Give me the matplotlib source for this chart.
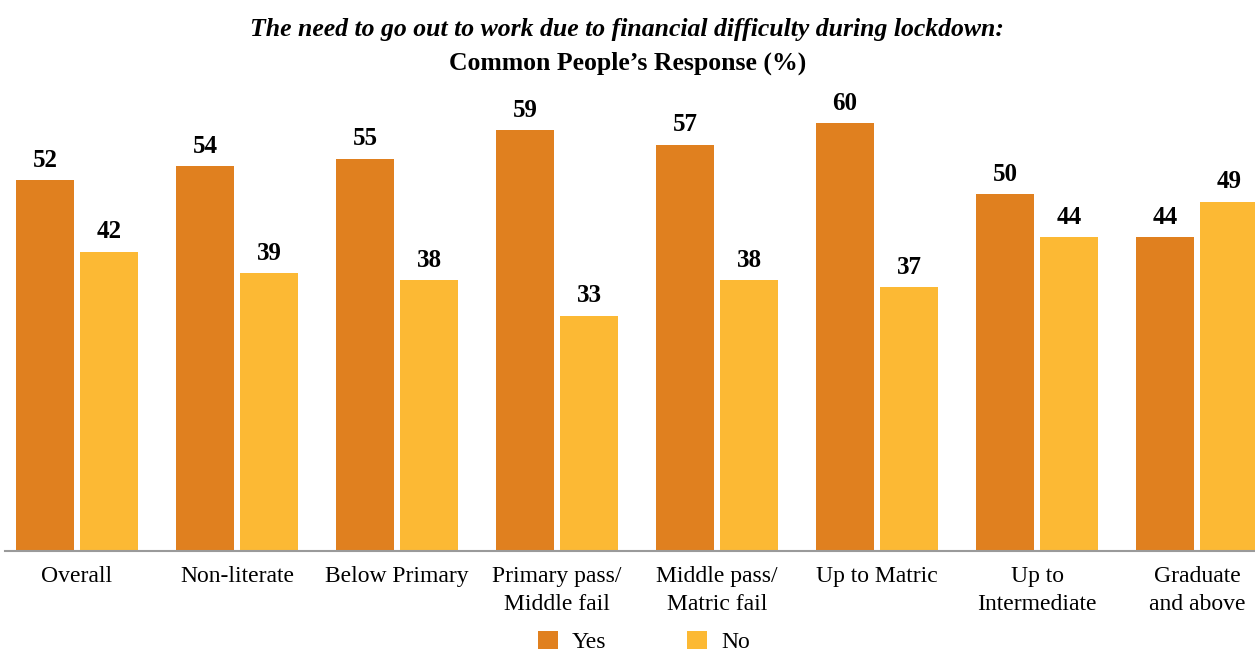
import matplotlib.pyplot as plt
import numpy as np

plt.rcParams["font.family"] = ["Liberation Serif", "DejaVu Serif"]

categories = [
    "Overall", "Non-literate", "Below Primary", "Primary pass/\nMiddle fail",
    "Middle pass/\nMatric fail", "Up to Matric", "Up to\nIntermediate", "Graduate\nand above",
]
yes_vals = [52, 54, 55, 59, 57, 60, 50, 44]
no_vals = [42, 39, 38, 33, 38, 37, 44, 49]

yes_color = "#E0801F"
no_color = "#FCB934"

fig = plt.figure(figsize=(12.55, 6.53), dpi=100)
ax = fig.add_axes([0.004, 0.1562, 0.996, 0.6907])

x = np.arange(len(categories))
width = 0.3625
off = 0.2
b1 = ax.bar(x - off, yes_vals, width, color=yes_color, label="Yes")
b2 = ax.bar(x + off, no_vals, width, color=no_color, label="No")

# value labels above each bar
for bars in (b1, b2):
    for rect in bars:
        h = rect.get_height()
        ax.annotate(f"{h:.0f}", (rect.get_x() + rect.get_width() / 2, h),
                    xytext=(0, 6), textcoords="offset points",
                    ha="center", va="bottom", fontsize=18, fontweight="bold")

ax.set_xlim(-0.45, 7.3625)
ax.set_ylim(0, 63.25)
ax.set_xticks(x)
ax.set_xticklabels(categories, fontsize=17, linespacing=1.45, va="top")
ax.tick_params(axis="x", length=0, pad=11)
ax.set_yticks([])
for s in ("left", "right", "top"):
    ax.spines[s].set_visible(False)
ax.spines["bottom"].set_color("#9a9a9a")
ax.spines["bottom"].set_linewidth(1.5)

fig.text(0.5, 0.955, "The need to go out to work due to financial difficulty during lockdown:",
         ha="center", va="center", fontsize=18.5, fontweight="bold", style="italic")
fig.text(0.5, 0.903, "Common People\u2019s Response (%)",
         ha="center", va="center", fontsize=18.5, fontweight="bold")

fig.legend(handles=[b1, b2], labels=["Yes", "No"], loc="center",
           bbox_to_anchor=(0.513, 0.017), ncol=2, frameon=False, fontsize=17,
           handlelength=0.85, handleheight=0.85, columnspacing=3.4,
           handletextpad=0.6, borderpad=0)

fig.savefig("out.png", dpi=100)
